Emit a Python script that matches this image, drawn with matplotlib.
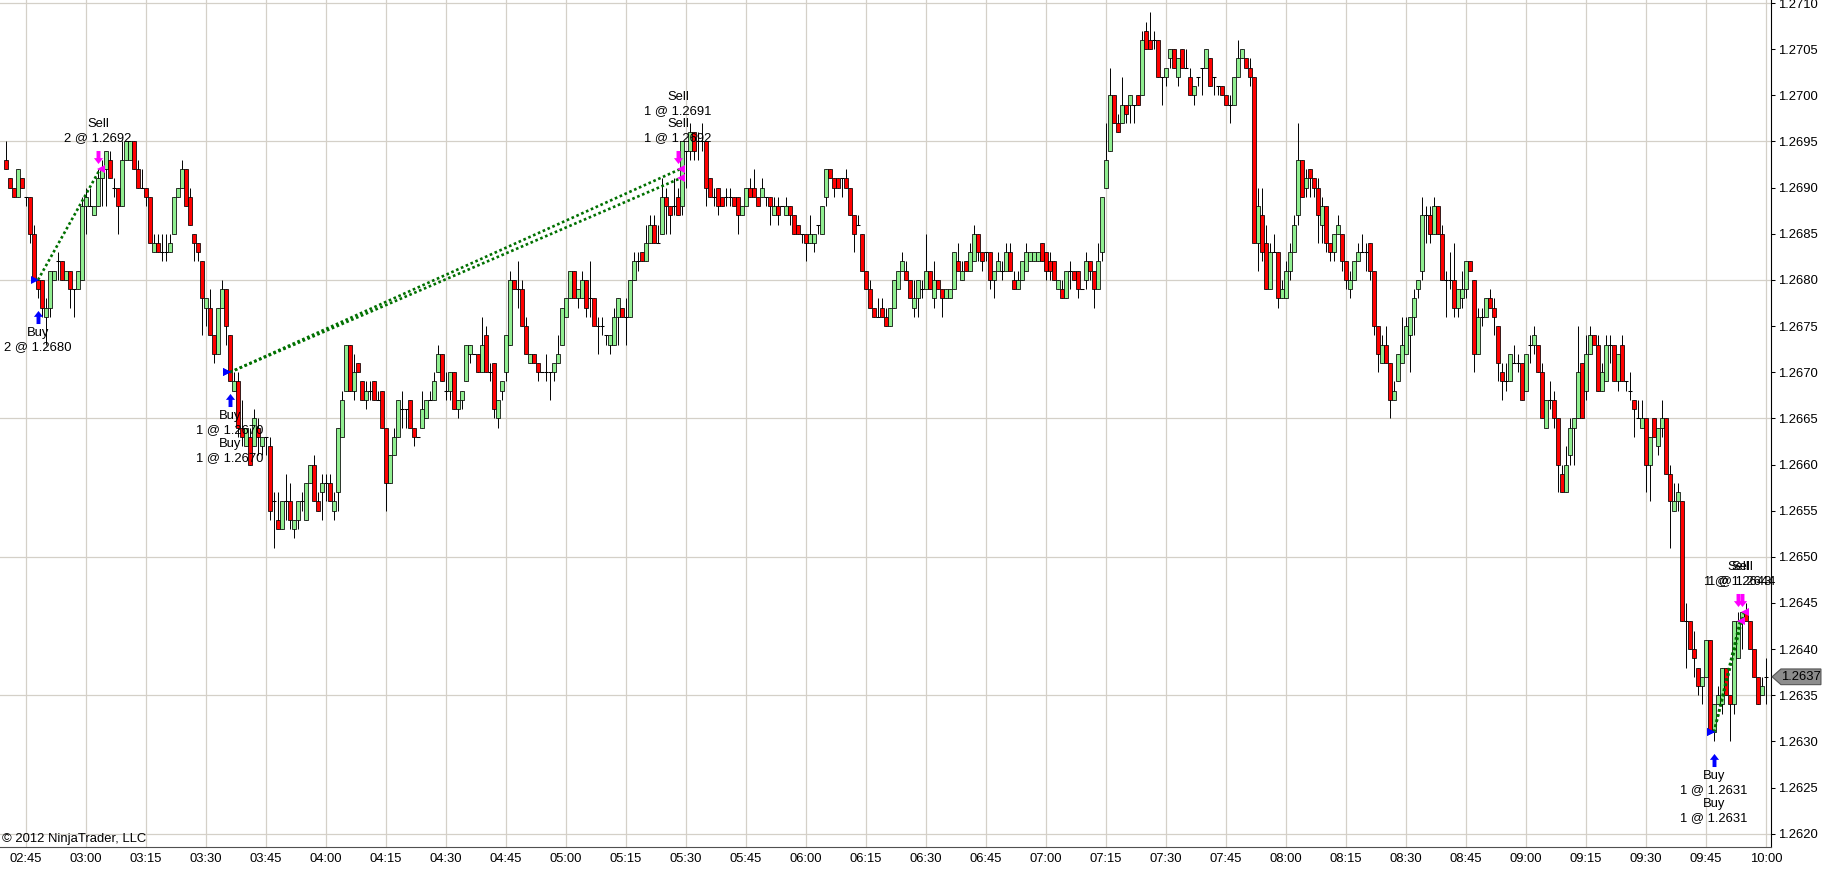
import matplotlib
matplotlib.use("Agg")
from matplotlib import pyplot as plt
from matplotlib.path import Path
from matplotlib.patches import Polygon
from matplotlib import transforms
import numpy as np

# 1 minute bars from 02:40, prices in pips above 1.2600
first_bar = "02:40"
base = 1.2600
pip = 0.0001

opens = [
    93, 91, 90, 89, 91, 89, 89, 85, 80, 80, 76, 77, 80, 82, 82, 80, 81, 79, 79, 80,
    88, 88, 87, 88, 91, 92, 93, 90, 90, 88, 93, 93, 95, 92, 90, 90, 89, 83, 84, 83,
    83, 83, 85, 89, 90, 92, 89, 85, 84, 82, 77, 77, 74, 72, 77, 79, 74, 68, 69, 64,
    62, 63, 62, 64, 62, 63, 62, 56, 54, 53, 56, 56, 53, 54, 56, 54, 58, 60, 56, 57,
    58, 58, 55, 57, 63, 68, 73, 68, 71, 69, 67, 68, 69, 67, 68, 64, 58, 61, 63, 66,
    66, 67, 64, 63, 64, 65, 67, 67, 70, 72, 68, 68, 70, 66, 67, 69, 72, 72, 72, 70,
    74, 70, 71, 65, 68, 70, 73, 80, 79, 79, 75, 71, 72, 71, 70, 70, 70, 70, 71, 73,
    76, 78, 81, 78, 78, 80, 78, 78, 75, 75, 74, 73, 73, 76, 77, 76, 76, 80, 82, 83,
    82, 84, 86, 84, 85, 89, 88, 88, 89, 88, 94, 94, 96, 95, 95, 95, 91, 89, 90, 89,
    89, 89, 89, 89, 87, 88, 90, 90, 89, 89, 89, 89, 87, 88, 88, 87, 88, 87, 86, 85,
    85, 84, 84, 86, 85, 89, 92, 91, 91, 91, 91, 90, 87, 86, 85, 81, 79, 77, 76, 77,
    76, 75, 77, 79, 81, 81, 80, 77, 78, 79, 79, 81, 78, 80, 79, 78, 78, 79, 82, 80,
    82, 81, 82, 85, 83, 83, 83, 80, 81, 81, 81, 83, 80, 79, 80, 81, 82, 82, 82, 84,
    83, 82, 82, 79, 79, 78, 81, 81, 81, 79, 80, 82, 81, 79, 83, 90, 94, 100, 97, 97,
    99, 99, 99, 100, 100, 107, 106, 106, 106, 102, 102, 104, 105, 102, 105, 103, 102, 100, 102, 103,
    103, 104, 102, 101, 101, 100, 99, 99, 102, 104, 104, 103, 102, 84, 87, 84, 79, 83, 83, 78,
    78, 81, 83, 87, 93, 90, 92, 91, 90, 86, 88, 84, 83, 85, 85, 82, 79, 80, 82, 83,
    83, 84, 81, 75, 71, 73, 71, 67, 69, 71, 72, 74, 76, 79, 81, 87, 87, 85, 88, 85,
    80, 80, 80, 77, 78, 79, 82, 80, 72, 76, 76, 78, 77, 75, 70, 69, 69, 71, 71, 71,
    68, 73, 73, 73, 70, 64, 67, 67, 65, 59, 57, 61, 64, 65, 71, 68, 72, 74, 73, 68,
    69, 73, 73, 69, 73, 69, 68, 67, 65, 64, 65, 60, 65, 62, 64, 65, 59, 55, 56, 56,
    43, 43, 40, 38, 36, 37, 41, 31, 34, 34, 38, 35, 34, 39, 43, 44, 43, 40, 37, 35,
    37,
]
highs = [
    95, 91, 90, 92, 91, 89, 89, 86, 80, 80, 78, 81, 81, 83, 82, 81, 81, 79, 81, 89,
    90, 90, 88, 92, 93, 94, 94, 91, 90, 95, 95, 95, 95, 93, 92, 90, 89, 85, 85, 85,
    85, 85, 89, 90, 93, 92, 90, 85, 84, 82, 78, 79, 74, 77, 80, 79, 74, 70, 70, 67,
    64, 64, 66, 65, 63, 63, 63, 57, 57, 56, 59, 58, 54, 56, 57, 58, 60, 61, 57, 59,
    59, 59, 57, 64, 68, 73, 73, 72, 71, 69, 69, 69, 69, 68, 68, 64, 61, 64, 67, 68,
    66, 67, 64, 63, 68, 67, 68, 70, 73, 72, 70, 70, 70, 67, 68, 73, 73, 72, 72, 76,
    75, 71, 71, 67, 69, 74, 81, 80, 82, 80, 76, 72, 72, 71, 70, 72, 70, 71, 74, 77,
    78, 81, 81, 79, 81, 80, 82, 78, 76, 76, 74, 74, 77, 78, 77, 78, 80, 83, 83, 83,
    86, 87, 87, 86, 91, 90, 88, 91, 90, 95, 94, 97, 96, 96, 97, 95, 91, 90, 90, 89,
    90, 90, 89, 89, 88, 90, 91, 92, 89, 91, 89, 89, 89, 89, 88, 89, 88, 87, 86, 85,
    85, 87, 85, 86, 88, 92, 92, 91, 91, 91, 92, 90, 87, 87, 85, 81, 80, 77, 78, 78,
    77, 77, 80, 81, 83, 82, 80, 80, 80, 80, 85, 81, 82, 80, 79, 79, 79, 83, 84, 82,
    82, 84, 86, 85, 83, 83, 83, 81, 83, 82, 84, 84, 81, 81, 82, 84, 83, 83, 83, 84,
    83, 83, 82, 80, 80, 81, 82, 81, 81, 79, 83, 82, 81, 84, 89, 97, 103, 100, 98, 102,
    99, 100, 99, 100, 107, 108, 109, 107, 106, 102, 103, 105, 105, 104, 105, 105, 103, 101, 102, 103,
    105, 104, 102, 101, 101, 100, 100, 102, 106, 105, 104, 104, 102, 90, 90, 86, 84, 85, 83, 80,
    82, 84, 87, 97, 93, 92, 92, 91, 91, 89, 88, 84, 85, 87, 85, 82, 81, 82, 84, 85,
    84, 84, 81, 75, 74, 75, 71, 69, 72, 76, 76, 76, 79, 80, 89, 88, 88, 89, 88, 86,
    81, 83, 84, 79, 81, 82, 82, 80, 77, 77, 78, 79, 78, 75, 71, 71, 72, 73, 72, 71,
    72, 74, 75, 73, 71, 67, 69, 68, 65, 60, 62, 65, 65, 75, 71, 74, 75, 74, 74, 71,
    74, 74, 73, 72, 74, 69, 70, 67, 67, 67, 65, 63, 65, 64, 67, 65, 60, 58, 58, 56,
    45, 43, 42, 38, 37, 41, 41, 34, 36, 38, 38, 35, 43, 44, 44, 45, 43, 40, 37, 37,
    39,
]
lows = [
    92, 90, 89, 89, 90, 88, 84, 80, 78, 76, 73, 76, 80, 80, 80, 80, 77, 76, 79, 80,
    85, 88, 87, 88, 88, 88, 91, 89, 85, 88, 93, 93, 92, 90, 90, 88, 84, 83, 83, 82,
    82, 83, 85, 89, 90, 88, 86, 82, 82, 74, 75, 74, 71, 72, 77, 73, 69, 68, 63, 62,
    62, 60, 62, 61, 61, 61, 54, 51, 53, 53, 54, 53, 52, 53, 55, 54, 58, 56, 55, 54,
    56, 56, 54, 55, 63, 68, 68, 67, 70, 67, 66, 67, 67, 67, 64, 55, 58, 61, 63, 64,
    64, 64, 62, 63, 64, 65, 67, 67, 70, 69, 67, 67, 66, 65, 66, 69, 71, 72, 70, 70,
    70, 69, 65, 64, 67, 69, 73, 79, 77, 75, 72, 71, 71, 69, 70, 69, 67, 69, 71, 73,
    76, 78, 78, 77, 78, 76, 76, 75, 72, 74, 73, 72, 73, 73, 76, 73, 76, 80, 81, 82,
    82, 84, 84, 84, 85, 85, 85, 87, 87, 87, 90, 93, 93, 93, 94, 88, 89, 88, 87, 88,
    88, 88, 88, 85, 87, 88, 89, 89, 88, 89, 88, 86, 87, 86, 88, 87, 86, 85, 85, 84,
    82, 84, 83, 85, 85, 88, 91, 89, 90, 89, 90, 87, 83, 86, 81, 79, 77, 76, 76, 76,
    75, 75, 77, 79, 81, 80, 78, 76, 76, 78, 79, 79, 77, 79, 76, 78, 78, 79, 81, 80,
    81, 81, 82, 82, 81, 82, 79, 78, 81, 80, 81, 81, 79, 79, 80, 81, 82, 82, 82, 82,
    80, 80, 80, 79, 78, 78, 79, 80, 78, 79, 79, 80, 77, 79, 82, 90, 94, 97, 96, 97,
    97, 97, 97, 99, 100, 105, 105, 105, 102, 99, 101, 103, 103, 101, 103, 103, 100, 99, 101, 100,
    103, 101, 100, 100, 100, 99, 97, 99, 102, 104, 103, 101, 84, 81, 82, 79, 79, 83, 77, 78,
    78, 80, 83, 86, 89, 89, 89, 89, 84, 84, 83, 82, 82, 85, 81, 79, 78, 80, 82, 83,
    81, 80, 74, 70, 71, 71, 65, 67, 69, 71, 72, 70, 74, 78, 80, 84, 84, 85, 85, 80,
    76, 79, 76, 76, 77, 78, 81, 70, 72, 75, 76, 77, 74, 69, 67, 68, 69, 71, 70, 67,
    68, 71, 72, 70, 65, 64, 66, 64, 57, 57, 57, 60, 60, 65, 65, 67, 72, 73, 68, 68,
    69, 71, 69, 68, 69, 68, 67, 63, 65, 64, 57, 56, 63, 61, 63, 59, 51, 55, 55, 43,
    38, 40, 37, 35, 34, 37, 31, 30, 34, 33, 35, 30, 33, 39, 40, 43, 40, 37, 34, 35,
    34,
]
closes = [
    92, 90, 89, 92, 90, 89, 85, 80, 79, 77, 77, 81, 81, 82, 80, 81, 79, 79, 81, 88,
    89, 88, 88, 91, 92, 94, 91, 90, 88, 93, 95, 95, 92, 90, 90, 89, 84, 84, 83, 83,
    83, 84, 89, 90, 92, 88, 86, 84, 83, 78, 78, 74, 72, 77, 79, 75, 69, 69, 64, 63,
    64, 60, 65, 63, 63, 63, 55, 56, 53, 56, 56, 54, 54, 56, 56, 58, 60, 56, 55, 58,
    58, 56, 56, 64, 67, 73, 68, 70, 70, 67, 68, 68, 67, 67, 64, 58, 61, 63, 67, 66,
    66, 64, 63, 63, 66, 67, 67, 69, 72, 69, 68, 70, 66, 67, 68, 73, 73, 72, 70, 73,
    70, 70, 66, 67, 69, 74, 80, 79, 79, 75, 72, 72, 71, 70, 70, 70, 70, 71, 72, 77,
    78, 81, 78, 79, 80, 77, 78, 75, 75, 75, 74, 74, 76, 78, 76, 76, 80, 82, 82, 82,
    84, 86, 84, 84, 89, 88, 87, 88, 87, 95, 94, 96, 94, 95, 95, 90, 89, 89, 88, 88,
    89, 89, 88, 87, 88, 90, 89, 89, 88, 90, 89, 88, 88, 87, 88, 88, 87, 85, 85, 85,
    84, 85, 85, 86, 88, 92, 91, 90, 90, 91, 90, 87, 85, 86, 81, 79, 77, 76, 76, 76,
    75, 77, 80, 81, 82, 80, 78, 78, 80, 79, 81, 79, 80, 79, 78, 79, 79, 83, 81, 81,
    81, 83, 85, 83, 82, 83, 80, 81, 82, 81, 83, 81, 79, 80, 82, 83, 83, 83, 83, 82,
    81, 81, 80, 80, 78, 81, 81, 80, 79, 79, 82, 81, 79, 82, 89, 93, 100, 97, 96, 99,
    98, 100, 99, 99, 106, 105, 105, 106, 102, 102, 103, 105, 103, 104, 103, 103, 100, 101, 102, 103,
    105, 101, 102, 101, 100, 99, 99, 102, 104, 105, 103, 102, 84, 88, 83, 79, 83, 83, 78, 79,
    81, 83, 86, 93, 89, 91, 91, 90, 87, 88, 84, 83, 85, 86, 82, 80, 80, 82, 83, 83,
    83, 81, 75, 72, 73, 71, 67, 68, 72, 73, 75, 76, 78, 80, 87, 87, 85, 88, 85, 80,
    80, 80, 77, 79, 79, 82, 81, 72, 76, 76, 78, 77, 76, 71, 69, 69, 72, 71, 71, 67,
    72, 73, 74, 70, 65, 67, 67, 65, 60, 57, 60, 64, 65, 70, 65, 72, 74, 73, 68, 70,
    73, 73, 69, 72, 69, 69, 68, 66, 65, 65, 60, 63, 63, 64, 65, 59, 56, 56, 57, 43,
    43, 40, 39, 36, 37, 41, 31, 34, 35, 38, 35, 34, 43, 43, 44, 43, 40, 37, 34, 36,
    37,
]

time_labels = ["02:45", "03:00", "03:15", "03:30", "03:45", "04:00", "04:15", "04:30",
               "04:45", "05:00", "05:15", "05:30", "05:45", "06:00", "06:15", "06:30",
               "06:45", "07:00", "07:15", "07:30", "07:45", "08:00", "08:15", "08:30",
               "08:45", "09:00", "09:15", "09:30", "09:45", "10:00"]

# executions: bar index, quantity, price
buy_bars = [8, 56, 56, 427, 427]
buy_qty = [2, 1, 1, 1, 1]
buy_prices = [1.2680, 1.2670, 1.2670, 1.2631, 1.2631]
sell_bars = [23, 168, 168, 433, 434]
sell_qty = [2, 1, 1, 1, 1]
sell_prices = [1.2692, 1.2691, 1.2692, 1.2643, 1.2644]

copyright_text = "\u00a9 2012 NinjaTrader, LLC"


def minutes(label):
    h, m = label.split(":")
    return int(h) * 60 + int(m)


def arrow_path(up=True):
    s = 1 if up else -1
    verts = [(-0.3, -1), (0.3, -1), (0.3, 0.1), (0.7, 0.1), (0, 1),
             (-0.7, 0.1), (-0.3, 0.1), (-0.3, -1)]
    return Path([(x, s * y) for x, y in verts], closed=True)


class CandleChart:
    def __init__(self, width_px=1824, height_px=872, dpi=100):
        self.width_px = width_px
        self.height_px = height_px
        self.dpi = dpi
        self.fs = 9.4

    def draw(self):
        plt.rcParams['font.family'] = ['Liberation Sans', 'DejaVu Sans']
        fig = plt.figure(figsize=(self.width_px / self.dpi, self.height_px / self.dpi), dpi=self.dpi)
        ax = fig.add_axes([0, 25 / self.height_px, 1771 / self.width_px, 847 / self.height_px])

        o = base + np.array(opens) * pip
        h = base + np.array(highs) * pip
        l = base + np.array(lows) * pip
        c = base + np.array(closes) * pip
        x = np.arange(len(o))

        # grid
        tick_bars = [minutes(t) - minutes(first_bar) for t in time_labels]
        for tb in tick_bars:
            ax.axvline(tb, color='#D4D0C8', lw=0.9, zorder=0)
        for lv in np.arange(20, 111, 15):
            ax.axhline(base + lv * pip, color='#D4D0C8', lw=0.9, zorder=0)

        # candles
        ax.vlines(x, l, h, color='black', lw=0.7, zorder=2)
        body = np.abs(c - o)
        flat = body < pip / 2
        colors = np.where(c > o, '#90EE90', '#FF0000')
        ax.bar(x[~flat], body[~flat], bottom=np.minimum(o, c)[~flat], width=0.8,
               color=colors[~flat], edgecolor='black', linewidth=0.55, zorder=3)
        ax.hlines(c[flat], x[flat] - 0.45, x[flat] + 0.45, color='black', lw=0.75,
                  zorder=3)

        # trade lines
        for bb, bp, sb, sp in zip(buy_bars, buy_prices, sell_bars, sell_prices):
            ax.plot([bb, sb + 0.5], [bp, sp], color='#007000', lw=1.9,
                    ls=(0, (1, 1)), zorder=4)

        ax.plot(np.array(buy_bars) - 0.8, buy_prices, ls='none', marker='>',
                ms=5.5, color='#0000FF', mew=0, zorder=5)
        ax.plot(np.array(sell_bars) + 0.8, sell_prices, ls='none', marker='<',
                ms=5.5, color='#FF00FF', mew=0, zorder=5)

        below = transforms.offset_copy(ax.transData, fig=fig, x=0, y=-18.5, units='dots')
        above = transforms.offset_copy(ax.transData, fig=fig, x=0, y=12.5, units='dots')

        for bar in sorted(set(buy_bars)):
            rows = [i for i in range(len(buy_bars)) if buy_bars[i] == bar]
            anchor = min(l[bar], min(buy_prices[i] for i in rows))
            ax.plot([bar], [anchor], marker=arrow_path(True), ms=9.4, color='#0000FF',
                    mew=0, transform=below, zorder=5)
            txt = "\n".join(f"Buy\n{buy_qty[i]} @ {buy_prices[i]:.4f}" for i in rows)
            ax.annotate(txt, xy=(bar, anchor), xytext=(0, -29), textcoords='offset pixels',
                        ha='center', va='top', fontsize=self.fs, linespacing=1.2,
                        zorder=6, annotation_clip=False)

        for bar in sorted(set(sell_bars)):
            rows = [i for i in range(len(sell_bars)) if sell_bars[i] == bar]
            anchor = max(h[bar], max(sell_prices[i] for i in rows))
            ax.plot([bar], [anchor], marker=arrow_path(False), ms=9.4, color='#FF00FF',
                    mew=0, transform=above, zorder=5)
            txt = "\n".join(f"Sell\n{sell_qty[i]} @ {sell_prices[i]:.4f}" for i in rows)
            ax.annotate(txt, xy=(bar, anchor), xytext=(0, 25), textcoords='offset pixels',
                        ha='center', va='bottom', fontsize=self.fs, linespacing=1.2,
                        zorder=6, annotation_clip=False)

        # axes
        ax.set_xlim(-1.5, 441.25)
        ax.set_ylim(base + 18.56 * pip, base + 110.33 * pip)
        ax.set_xticks(tick_bars)
        ax.set_xticklabels(time_labels)
        yt = base + np.arange(20, 111, 5) * pip
        ax.set_yticks(yt)
        ax.set_yticklabels([f"{v:.4f}" for v in yt])
        ax.yaxis.tick_right()
        ax.tick_params(axis='y', direction='out', length=3, width=0.75, pad=2,
                       labelsize=self.fs)
        ax.tick_params(axis='x', length=0, pad=4, labelsize=self.fs)
        for side in ['top', 'left']:
            ax.spines[side].set_visible(False)
        ax.spines['right'].set_color('black')
        ax.spines['right'].set_linewidth(0.8)
        ax.spines['bottom'].set_color('#505050')
        ax.spines['bottom'].set_linewidth(0.8)

        # last price tag
        last = c[-1]
        half = 0.85 * pip
        blend = transforms.blended_transform_factory(ax.transAxes, ax.transData)
        tag = Polygon([(1.0006, last), (1.0056, last + half), (1.0282, last + half),
                       (1.0282, last - half), (1.0056, last - half)], closed=True,
                      facecolor='#8C8C8C', edgecolor='#555555', lw=0.8,
                      transform=blend, clip_on=False, zorder=7)
        ax.add_patch(tag)
        ax.text(1.0166, last, f"{last:.4f}", transform=blend, ha='center', va='center',
                fontsize=self.fs, color='black', clip_on=False, zorder=8)

        fig.text(2 / self.width_px, 1 - 839 / self.height_px, copyright_text,
                 ha='left', va='center', fontsize=self.fs)

        fig.savefig("out.png", dpi=self.dpi, facecolor='white')


CandleChart().draw()
